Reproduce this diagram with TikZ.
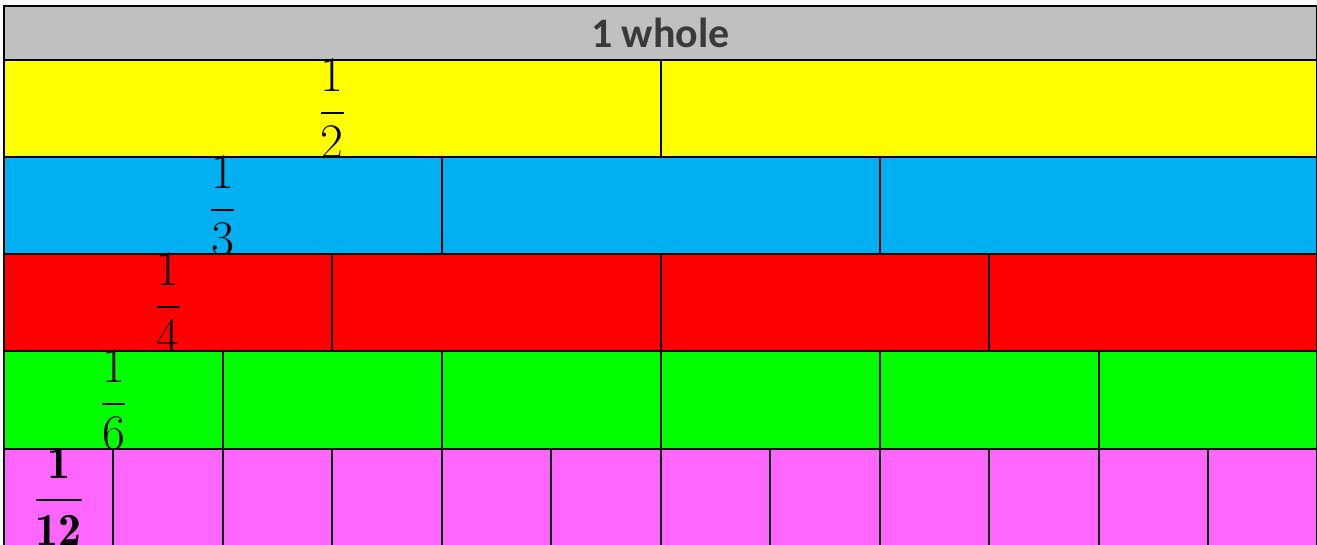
\documentclass[tikz,border=0pt]{standalone}
\usepackage{amsmath}
\usepackage{fontspec}
\usepackage{xcolor}
\usepackage{tikz}
\newfontfamily\wholefont{Carlito}
\definecolor{wholegrey}{HTML}{C0C0C0}
\definecolor{wholeink}{HTML}{3A3A3A}
\definecolor{halfyellow}{HTML}{FFFF00}
\definecolor{thirdblue}{HTML}{00B0F0}
\definecolor{quarterred}{HTML}{FF0000}
\definecolor{sixthgreen}{HTML}{00FF00}
\definecolor{twelfthpink}{HTML}{FF66FF}
\newcommand{\fracrow}[4]{%
  \pgfmathsetmacro{\piecew}{1313.4/#1}%
  \foreach \k in {1,...,#1}{%
    \filldraw[cell, fill=#4] ({4+(\k-1)*\piecew},#2) rectangle ({4+\k*\piecew},#3);
  }%
}
\newcommand{\unitfrac}[2]{\genfrac{}{}{1pt}{0}{#1}{\raisebox{0.6pt}{$#2$}}}

\begin{document}
\begin{tikzpicture}[x=0.5pt, y=-0.5pt, cell/.style={draw=black, line width=1pt}, wholelabel/.style={font=\wholefont\bfseries\fontsize{21}{25}\selectfont, text=wholeink, inner sep=0pt}, fraclabel/.style={anchor=north, inner sep=0pt, font=\fontsize{23}{28}\selectfont}]
\useasboundingbox (0,0) rectangle (1317,545);
\filldraw[cell, fill=wholegrey] (4,6) rectangle (1317.4,60);
\node[wholelabel] (whole) at (660.5,33) {1 whole};
\fracrow{2}{60}{157}{halfyellow}
\node[fraclabel] (half) at (332.4,59) {$\unitfrac{1}{2}$};
\fracrow{3}{157}{254}{thirdblue}
\node[fraclabel] (third) at (222.9,156) {$\unitfrac{1}{3}$};
\fracrow{4}{254}{351}{quarterred}
\node[fraclabel] (quarter) at (168.2,253) {$\unitfrac{1}{4}$};
\fracrow{6}{351}{449}{sixthgreen}
\node[fraclabel] (sixth) at (113.5,350) {$\unitfrac{1}{6}$};
\fracrow{12}{449}{548}{twelfthpink}
\node[fraclabel] (twelfth) at (58.7,448) {$\unitfrac{\mathbf{1}}{\mathbf{12}}$};
\end{tikzpicture}
\end{document}
